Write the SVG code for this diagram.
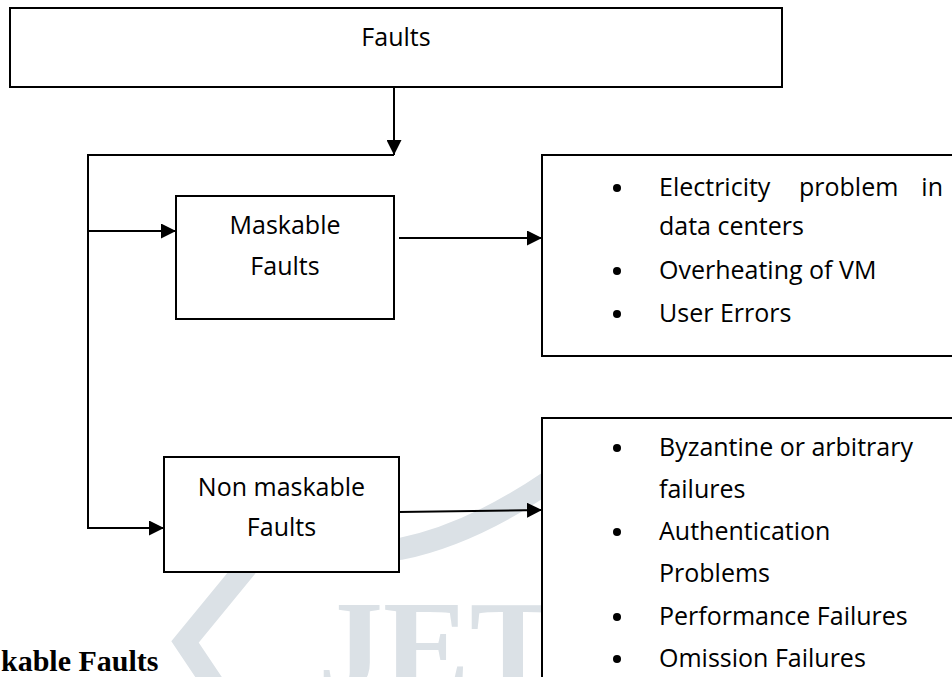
<svg xmlns="http://www.w3.org/2000/svg" width="952" height="677" viewBox="0 0 952 677">
  <defs>
    <style>
      .box { fill: #ffffff; stroke: #000000; stroke-width: 2; }
      .wire { fill: none; stroke: #000000; stroke-width: 2; }
      .lbl { font-family: "Open Sans", "Noto Sans", "DejaVu Sans", sans-serif; font-size: 25px; fill: #000000; }
      .mid { text-anchor: middle; }
      .dot { fill: #000000; }
      .wm { fill: #dbe1e6; }
      .wm-band { fill: none; stroke: #dbe1e6; stroke-width: 22; stroke-linejoin: miter; }
      .heading { font-family: "Liberation Serif", "Times New Roman", serif; font-weight: bold; font-size: 30px; fill: #000000; }
    </style>
    <marker id="arrow" markerUnits="userSpaceOnUse" markerWidth="15" markerHeight="15" refX="15" refY="7.5" orient="auto">
      <path d="M0,0 L15,7.5 L0,15 Z" fill="#000000"/>
    </marker>
  </defs>

  <rect x="0" y="0" width="952" height="677" fill="#ffffff"/>

  <!-- background watermark -->
  <g id="watermark">
    <path class="wm-band" d="M 548 482 Q 470 535 400 549 Q 330 560 262 548 L 185 642 L 222 697"/>
    <text class="wm" x="318" y="690" font-family="Liberation Serif, Times New Roman, serif" font-weight="bold" font-size="130">JET</text>
  </g>

  <!-- connectors -->
  <g id="connectors">
    <path class="wire" d="M394 87 V155" marker-end="url(#arrow)"/>
    <path class="wire" d="M394 155 H88 V528 H164" marker-end="url(#arrow)"/>
    <path class="wire" d="M88 231 H176" marker-end="url(#arrow)"/>
    <path class="wire" d="M399 238 H542" marker-end="url(#arrow)"/>
    <path class="wire" d="M399 512 L542 510" marker-end="url(#arrow)"/>
  </g>

  <g id="faults">
    <rect class="box" x="10" y="8" width="772" height="79"/>
    <text class="lbl mid" x="396" y="46">Faults</text>
  </g>

  <g id="maskable">
    <rect class="box" x="176" y="196" width="218" height="123"/>
    <text class="lbl mid" x="285" y="234">Maskable</text>
    <text class="lbl mid" x="285" y="275">Faults</text>
  </g>

  <g id="non-maskable">
    <rect class="box" x="164" y="457" width="235" height="115"/>
    <text class="lbl mid" x="281.5" y="496">Non maskable</text>
    <text class="lbl mid" x="281.5" y="536">Faults</text>
  </g>

  <g id="maskable-examples">
    <rect class="box" x="542" y="155" width="420" height="201"/>
    <circle class="dot" cx="617" cy="188" r="4"/>
    <text class="lbl" x="659" y="196">Electricity</text>
    <text class="lbl" x="799" y="196">problem</text>
    <text class="lbl" x="943" y="196" text-anchor="end">in</text>
    <text class="lbl" x="659" y="235">data centers</text>
    <circle class="dot" cx="617" cy="271" r="4"/>
    <text class="lbl" x="659" y="279">Overheating of VM</text>
    <circle class="dot" cx="617" cy="314" r="4"/>
    <text class="lbl" x="659" y="322">User Errors</text>
  </g>

  <g id="non-maskable-examples">
    <rect class="box" x="542" y="418" width="420" height="280"/>
    <circle class="dot" cx="617" cy="448" r="4"/>
    <text class="lbl" x="659" y="456">Byzantine or arbitrary</text>
    <text class="lbl" x="659" y="498">failures</text>
    <circle class="dot" cx="617" cy="532" r="4"/>
    <text class="lbl" x="659" y="540">Authentication</text>
    <text class="lbl" x="659" y="582">Problems</text>
    <circle class="dot" cx="617" cy="617" r="4"/>
    <text class="lbl" x="659" y="625">Performance Failures</text>
    <circle class="dot" cx="617" cy="659" r="4"/>
    <text class="lbl" x="659" y="667">Omission Failures</text>
  </g>

  <text class="heading" x="1" y="671">kable Faults</text>
</svg>
